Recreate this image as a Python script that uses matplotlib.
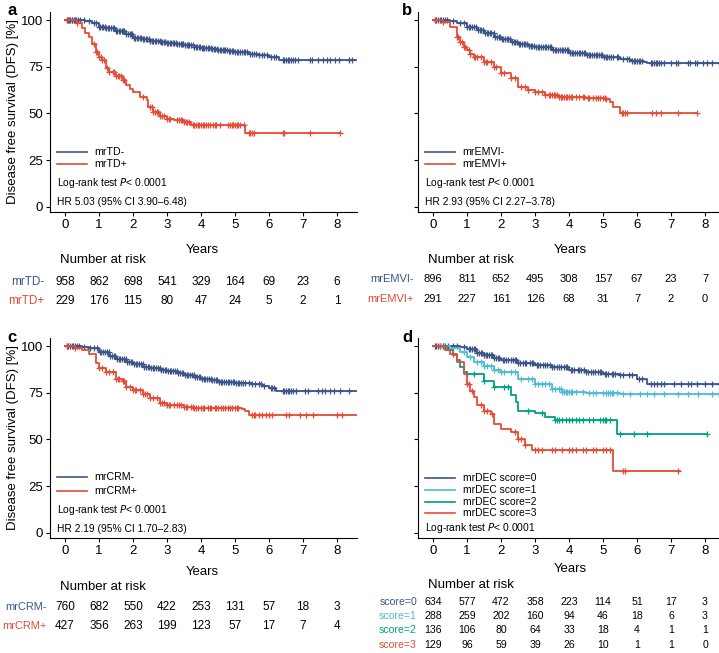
import numpy as np
import matplotlib
matplotlib.use('Agg')
import matplotlib.pyplot as plt
import matplotlib.transforms as mtransforms

plt.rcParams['font.family'] = ['Liberation Sans', 'DejaVu Sans']

# colours (NPG-like palette)
BLUE = '#3C5488'
RED = '#E64B35'
LIGHTBLUE = '#4DBBD5'
TEAL = '#00A087'

years = [0, 1, 2, 3, 4, 5, 6, 7, 8]
yticks = [0, 25, 50, 75, 100]

# ---- panel a: mrTD ----
td_neg_t = [0, 0.6, 0.8, 1.0, 1.2, 1.5, 1.8, 2.0, 2.3, 2.5, 2.8, 3.0, 3.3, 3.5, 3.8, 4.0, 4.3, 4.5, 4.8, 5.0, 5.4, 5.7, 6.0, 6.3, 8.65]
td_neg_s = [100, 99.3, 98.5, 96.5, 95.5, 94.3, 92.5, 90.5, 89.8, 89.0, 88.3, 87.8, 87.2, 86.6, 85.8, 85.2, 84.5, 84.0, 83.4, 83.0, 82.0, 81.3, 80.4, 78.5, 78.5]
td_neg_c = [0.05, 0.08, 0.12, 0.15, 0.2, 0.22, 0.27, 0.3, 0.33, 0.38, 0.45, 0.55, 0.7, 0.85, 0.92, 1.0, 1.04, 1.1, 1.13,
            1.18, 1.22, 1.27, 1.3, 1.36, 1.4, 1.44, 1.5, 1.53, 1.58, 1.62, 1.67, 1.7, 1.75, 1.8, 1.84, 1.9, 1.93, 1.98,
            2.03, 2.07, 2.12, 2.16, 2.2, 2.25, 2.3, 2.33, 2.38, 2.42, 2.47, 2.5, 2.55, 2.6, 2.64, 2.68, 2.73, 2.78, 2.82,
            2.86, 2.9, 2.95, 3.0, 3.04, 3.08, 3.13, 3.18, 3.22, 3.27, 3.3, 3.35, 3.4, 3.44, 3.48, 3.53, 3.58, 3.62, 3.66,
            3.7, 3.75, 3.8, 3.84, 3.88, 3.93, 3.97, 4.02, 4.06, 4.1, 4.15, 4.2, 4.24, 4.28, 4.33, 4.37, 4.42, 4.46, 4.5,
            4.55, 4.6, 4.64, 4.68, 4.72, 4.77, 4.82, 4.86, 4.9, 4.95, 5.0, 5.05, 5.1, 5.14, 5.2, 5.25, 5.3, 5.35, 5.45,
            5.5, 5.55, 5.62, 5.7, 5.8, 5.85, 5.95, 6.05, 6.15, 6.2, 6.4, 6.45, 6.5, 6.55, 6.6, 6.65, 6.7, 6.75, 6.85,
            7.2, 7.25, 7.45, 7.6, 7.7, 7.8, 7.95, 8.05, 8.35, 8.45]
td_pos_t = [0, 0.35, 0.5, 0.6, 0.7, 0.8, 0.9, 1.0, 1.1, 1.2, 1.3, 1.5, 1.7, 1.8, 1.9, 2.0, 2.2, 2.4, 2.45, 2.6, 2.8, 3.0, 3.2, 3.5, 3.7, 3.8, 5.3, 8.1]
td_pos_s = [100, 98.5, 95.5, 93, 91, 87, 83, 80.4, 78.6, 74.1, 72.3, 70, 67.9, 65.2, 63, 61.6, 58.9, 57.1, 53.6, 50.9, 48.8, 47.3, 46.4, 45.5, 44.1, 43.6, 39.3, 39.3]
td_pos_c = [0.05, 0.35, 0.85, 0.9, 0.95, 1.0, 1.05, 1.1, 1.15, 1.25, 1.3, 1.4, 1.45, 1.5, 1.55, 1.6, 1.65, 1.7, 1.75,
            2.3, 2.5, 2.55, 2.6, 2.65, 2.7, 2.75, 2.8, 2.85, 2.9, 3.0, 3.05, 3.1, 3.3, 3.35, 3.4, 3.45, 3.5, 3.55, 3.6,
            3.65, 3.75, 3.8, 3.85, 3.9, 3.95, 4.0, 4.05, 4.1, 4.15, 4.2, 4.25, 4.35, 4.4, 4.45, 4.55, 4.8, 4.85, 4.9,
            4.95, 5.0, 5.05, 5.1, 5.15, 5.25, 5.4, 5.45, 5.5, 5.55, 6.4, 6.45, 7.2, 8.1]
td_neg_risk = [958, 862, 698, 541, 329, 164, 69, 23, 6]
td_pos_risk = [229, 176, 115, 80, 47, 24, 5, 2, 1]

# ---- panel b: mrEMVI ----
emvi_neg_t = [0, 0.5, 0.7, 1.0, 1.3, 1.5, 1.8, 2.0, 2.3, 2.5, 2.8, 3.0, 3.5, 4.0, 4.5, 5.0, 5.5, 5.8, 6.2, 6.3, 8.6]
emvi_neg_s = [100, 99.3, 98.6, 96.4, 94.5, 92.9, 91, 89.6, 88, 87, 86.3, 85.7, 83.9, 82.5, 81.3, 80, 79.1, 78.2, 77.3, 76.8, 76.8]
emvi_neg_c = [0.05, 0.1, 0.15, 0.2, 0.25, 0.3, 0.35, 0.4, 0.6, 0.8, 0.9, 1.0, 1.05, 1.1, 1.15, 1.2, 1.27, 1.32, 1.38,
              1.42, 1.48, 1.53, 1.58, 1.63, 1.68, 1.72, 1.78, 1.83, 1.88, 1.93, 1.97, 2.03, 2.07, 2.12, 2.17, 2.22, 2.27,
              2.32, 2.37, 2.42, 2.47, 2.52, 2.57, 2.62, 2.67, 2.72, 2.77, 2.82, 2.87, 2.92, 2.97, 3.03, 3.08, 3.13, 3.18,
              3.23, 3.28, 3.33, 3.38, 3.43, 3.48, 3.53, 3.58, 3.63, 3.68, 3.73, 3.78, 3.83, 3.88, 3.93, 3.98, 4.03, 4.08,
              4.13, 4.18, 4.23, 4.28, 4.33, 4.38, 4.43, 4.48, 4.53, 4.58, 4.63, 4.68, 4.73, 4.78, 4.83, 4.88, 4.93, 4.98,
              5.03, 5.08, 5.13, 5.18, 5.23, 5.3, 5.4, 5.45, 5.6, 5.7, 5.75, 5.85, 5.9, 5.95, 6.0, 6.05, 6.1, 6.15, 6.4,
              6.45, 6.5, 6.55, 6.6, 6.65, 6.7, 6.8, 7.0, 7.15, 7.2, 7.5, 7.55, 7.7, 7.75, 7.95, 8.05, 8.2, 8.4]
emvi_pos_t = [0, 0.3, 0.5, 0.7, 0.8, 0.9, 1.0, 1.1, 1.2, 1.5, 1.8, 2.0, 2.3, 2.5, 2.8, 3.0, 3.3, 3.7, 4.5, 5.1, 5.2, 5.3, 5.5, 7.75]
emvi_pos_s = [100, 98.8, 96.4, 91, 88, 85.7, 83.9, 82, 80.4, 77.7, 75, 71.4, 68.75, 64.3, 62.5, 61.6, 59.8, 58.9, 58.4, 57.7, 56.25, 53.6, 50, 50]
emvi_pos_c = [0.05, 0.3, 0.7, 0.75, 0.8, 0.85, 0.9, 0.95, 1.05, 1.1, 1.2, 1.25, 1.3, 1.4, 1.5, 1.55, 1.6, 1.7, 1.8, 1.85,
              2.0, 2.1, 2.3, 2.4, 2.6, 2.7, 2.8, 3.0, 3.1, 3.2, 3.3, 3.4, 3.45, 3.5, 3.55, 3.6, 3.65, 3.7, 3.75, 3.8,
              3.85, 3.9, 3.95, 4.0, 4.05, 4.1, 4.2, 4.3, 4.4, 4.45, 4.55, 4.6, 4.7, 4.8, 4.85, 4.9, 5.0, 5.05, 5.1, 5.55,
              5.6, 5.65, 5.7, 6.45, 6.55, 6.7, 7.2, 7.75]
emvi_neg_risk = [896, 811, 652, 495, 308, 157, 67, 23, 7]
emvi_pos_risk = [291, 227, 161, 126, 68, 31, 7, 2, 0]

# ---- panel c: mrCRM ----
crm_neg_t = [0, 0.5, 0.7, 1.0, 1.3, 1.5, 1.8, 2.0, 2.3, 2.5, 2.8, 3.0, 3.3, 3.5, 3.8, 4.0, 4.3, 4.5, 5.0, 5.5, 5.8, 6.0, 6.2, 8.6]
crm_neg_s = [100, 99.5, 98.75, 96.8, 94.8, 93.2, 91.5, 90.2, 89, 88, 87.2, 86.6, 85.6, 84.5, 83.3, 82.5, 81.7, 80.9, 80.4, 79.5, 78.5, 77.7, 75.9, 75.9]
crm_neg_c = [0.05, 0.1, 0.15, 0.2, 0.25, 0.3, 0.35, 0.42, 0.55, 0.75, 0.85, 0.95, 1.02, 1.07, 1.12, 1.17, 1.23, 1.28, 1.33,
             1.38, 1.43, 1.48, 1.53, 1.58, 1.63, 1.68, 1.73, 1.78, 1.83, 1.88, 1.93, 1.98, 2.03, 2.08, 2.13, 2.18, 2.23,
             2.28, 2.33, 2.38, 2.43, 2.48, 2.53, 2.58, 2.63, 2.68, 2.73, 2.78, 2.83, 2.88, 2.93, 2.98, 3.03, 3.08, 3.13,
             3.18, 3.23, 3.28, 3.33, 3.38, 3.43, 3.48, 3.53, 3.58, 3.63, 3.68, 3.73, 3.78, 3.83, 3.88, 3.93, 3.98, 4.03,
             4.08, 4.13, 4.18, 4.23, 4.28, 4.33, 4.38, 4.43, 4.48, 4.53, 4.58, 4.63, 4.68, 4.73, 4.78, 4.83, 4.88, 4.93,
             4.98, 5.03, 5.08, 5.13, 5.18, 5.23, 5.3, 5.4, 5.5, 5.6, 5.7, 5.75, 5.85, 6.05, 6.1, 6.15, 6.4, 6.45, 6.5,
             6.55, 6.6, 6.65, 6.7, 6.8, 7.05, 7.15, 7.45, 7.55, 7.65, 7.8, 7.9, 8.1, 8.35]
crm_pos_t = [0, 0.3, 0.5, 0.7, 0.9, 1.0, 1.2, 1.5, 1.7, 1.8, 2.0, 2.3, 2.5, 2.8, 3.0, 3.5, 3.8, 5.2, 5.3, 5.4, 8.6]
crm_pos_s = [100, 99, 97.9, 95.5, 91, 88.4, 86, 82.5, 81.25, 78.2, 76.4, 74.1, 72.3, 69.6, 68.2, 67.3, 66.6, 66.4, 65.2, 62.9, 62.9]
crm_pos_c = [0.05, 0.3, 1.0, 1.1, 1.2, 1.3, 1.4, 1.5, 1.55, 1.6, 1.7, 1.75, 1.8, 1.9, 2.0, 2.05, 2.1, 2.2, 2.3, 2.35, 2.4,
             2.5, 2.6, 2.7, 2.8, 2.85, 2.9, 3.0, 3.05, 3.1, 3.2, 3.3, 3.35, 3.4, 3.5, 3.55, 3.6, 3.7, 3.75, 3.8, 3.85,
             3.9, 4.0, 4.05, 4.1, 4.2, 4.25, 4.3, 4.4, 4.45, 4.5, 4.6, 4.65, 4.7, 4.8, 4.85, 4.9, 5.0, 5.05, 5.1, 5.5,
             5.55, 5.6, 5.7, 5.8, 5.9, 6.0, 6.1, 6.5, 6.6, 6.9, 7.1, 7.3, 8.0, 8.15]
crm_neg_risk = [760, 682, 550, 422, 253, 131, 57, 18, 3]
crm_pos_risk = [427, 356, 263, 199, 123, 57, 17, 7, 4]

# ---- panel d: mrDEC score ----
dec0_t = [0, 0.8, 1.0, 1.3, 1.5, 1.8, 2.0, 2.5, 3.0, 3.5, 4.0, 4.5, 5.0, 5.5, 6.0, 6.3, 8.6]
dec0_s = [100, 99.3, 98.2, 96.5, 95, 93.5, 92.3, 91.1, 90, 88.75, 87.3, 86, 85.2, 84.3, 82.5, 79.8, 79.8]
dec0_c = [0.05, 0.1, 0.15, 0.2, 0.3, 0.35, 0.45, 0.6, 0.7, 0.9, 1.05, 1.1, 1.15, 1.2, 1.25, 1.3, 1.35, 1.4, 1.45, 1.5,
          1.55, 1.6, 1.65, 1.7, 1.75, 1.8, 1.85, 1.9, 1.95, 2.05, 2.1, 2.15, 2.2, 2.3, 2.35, 2.4, 2.45, 2.5, 2.55, 2.65,
          2.7, 2.75, 2.85, 2.9, 2.95, 3.05, 3.1, 3.15, 3.25, 3.3, 3.35, 3.45, 3.5, 3.55, 3.65, 3.7, 3.75, 3.85, 3.9,
          3.95, 4.05, 4.1, 4.15, 4.25, 4.3, 4.35, 4.45, 4.5, 4.55, 4.65, 4.7, 4.75, 4.85, 4.9, 4.95, 5.05, 5.1, 5.15,
          5.25, 5.3, 5.35, 5.5, 5.6, 5.75, 5.85, 6.05, 6.15, 6.4, 6.5, 6.6, 6.7, 6.8, 7.1, 7.3, 7.5, 7.6, 7.75, 8.0,
          8.2, 8.4]
dec1_t = [0, 0.5, 0.8, 1.0, 1.2, 1.5, 1.8, 2.0, 2.5, 3.0, 3.5, 3.8, 4.5, 5.5, 8.6]
dec1_s = [100, 99, 96.8, 94.1, 91.5, 89.1, 87.3, 86.1, 82.5, 79.8, 77.1, 75.4, 74.8, 74.5, 74.5]
dec1_c = [0.3, 0.9, 1.1, 1.3, 1.4, 1.5, 1.6, 1.7, 1.8, 1.9, 2.0, 2.1, 2.3, 2.4, 2.6, 2.8, 2.9, 3.0, 3.1, 3.2, 3.3, 3.4,
          3.5, 3.6, 3.7, 3.75, 3.8, 3.85, 3.9, 3.95, 4.0, 4.05, 4.1, 4.2, 4.4, 4.6, 4.7, 4.8, 5.0, 5.1, 5.15, 5.2,
          5.25, 5.3, 5.4, 5.6, 5.8, 6.1, 6.3, 6.5, 6.8, 7.2, 7.5, 7.8, 8.2, 8.4]
dec2_t = [0, 0.4, 0.6, 0.7, 0.8, 0.9, 1.0, 1.5, 1.8, 2.3, 2.45, 2.5, 3.0, 3.3, 3.6, 5.4, 8.05]
dec2_s = [100, 98, 95, 92.3, 89, 86, 85.2, 81.25, 78, 73.6, 70, 65.5, 64.1, 62, 60.5, 53, 53]
dec2_c = [0.3, 1.0, 1.2, 1.5, 1.8, 2.1, 2.2, 2.8, 3.2, 3.6, 3.65, 3.7, 3.8, 3.9, 4.0, 4.1, 4.2, 4.3, 4.4, 4.6, 4.7, 4.9,
          5.0, 5.05, 5.1, 5.2, 5.5, 5.9, 6.3, 8.05]
dec3_t = [0, 0.35, 0.5, 0.7, 0.9, 1.0, 1.1, 1.2, 1.3, 1.5, 1.7, 1.8, 2.0, 2.3, 2.5, 2.7, 2.9, 5.3, 7.25]
dec3_s = [100, 98, 95.9, 91.4, 85.2, 79.8, 76, 72.7, 68.2, 65.5, 63.75, 58.4, 55.7, 53.9, 50.4, 46.8, 44.5, 32.9, 32.9]
dec3_c = [0.2, 0.6, 1.0, 1.05, 1.15, 1.4, 1.5, 1.6, 1.75, 2.4, 2.5, 2.6, 2.7, 3.0, 3.1, 3.2, 3.5, 3.6, 3.8, 4.0, 4.1, 4.2,
          4.4, 4.5, 4.7, 4.8, 5.0, 5.1, 5.2, 5.6, 5.65, 7.2]
dec0_risk = [634, 577, 472, 358, 223, 114, 51, 17, 3]
dec1_risk = [288, 259, 202, 160, 94, 46, 18, 6, 3]
dec2_risk = [136, 106, 80, 64, 33, 18, 4, 1, 1]
dec3_risk = [129, 96, 59, 39, 26, 10, 1, 1, 0]

W, H = 719, 653
fig = plt.figure(figsize=(W / 100, H / 100), dpi=100)


def make_ax(left, top):
    # axes box given in pixels: 307 wide, 200 tall
    ax = fig.add_axes([left / W, (H - top - 200) / H, 307 / W, 200 / H])
    ax.set_xlim(-0.441, 8.588)
    ax.set_ylim(-2.7, 104.3)
    ax.spines['top'].set_visible(False)
    ax.spines['right'].set_visible(False)
    ax.set_xticks(years)
    ax.set_yticks(yticks)
    ax.tick_params(labelsize=9.5, length=3, width=0.8, pad=2)
    return ax


def km(ax, t, s, cens, color):
    t = np.asarray(t)
    s = np.asarray(s)
    ax.step(t, s, where='post', color=color, lw=1.3)
    cens = np.asarray(cens)
    idx = np.searchsorted(t, cens, side='right') - 1
    ax.plot(cens, s[idx], ls='none', marker='+', ms=4.5, mew=0.9, color=color)


def legend(ax, labels, colors, ys, size=7.7):
    for lab, col, y in zip(labels, colors, ys):
        ax.plot([0.023, 0.12], [y, y], transform=ax.transAxes, color=col, lw=1.2)
        ax.text(0.145, y, lab, transform=ax.transAxes, va='center', fontsize=size)


def risk_table(ax, names, colors, counts, rows, label_x, size=8.5, label_size=None,
               years_y=-0.19, nar_y=-0.24):
    tr = mtransforms.blended_transform_factory(ax.transData, ax.transAxes)
    ax.text(4.05, years_y, 'Years', transform=tr, ha='center', va='center', fontsize=9.5)
    ax.text(-0.15, nar_y, 'Number at risk', transform=tr, ha='left', va='center', fontsize=9.5)
    for name, col, cnt, y in zip(names, colors, counts, rows):
        ax.text(label_x, y, name, transform=tr, ha='right', va='center',
                fontsize=label_size or size, color=col)
        for x, n in zip(years, cnt):
            ax.text(x, y, str(n), transform=tr, ha='center', va='center', fontsize=size)


LOGRANK = 'Log-rank test $\\it{P}$< 0.0001'

# panel a
ax_a = make_ax(50, 12)
km(ax_a, td_neg_t, td_neg_s, td_neg_c, BLUE)
km(ax_a, td_pos_t, td_pos_s, td_pos_c, RED)
ax_a.set_ylabel('Disease free survival (DFS) [%]', fontsize=9.5)
ax_a.yaxis.set_label_coords(-0.1, 0.5)
legend(ax_a, ['mrTD-', 'mrTD+'], [BLUE, RED], [0.30, 0.24])
ax_a.text(0.023, 0.145, LOGRANK, transform=ax_a.transAxes, va='center', fontsize=7.4)
ax_a.text(0.023, 0.05, 'HR 5.03 (95% CI 3.90\u20136.48)', transform=ax_a.transAxes, va='center', fontsize=7.4)
risk_table(ax_a, ['mrTD-', 'mrTD+'], [BLUE, RED], [td_neg_risk, td_pos_risk], [-0.35, -0.445], -0.62)

# panel b
ax_b = make_ax(418, 12)
km(ax_b, emvi_neg_t, emvi_neg_s, emvi_neg_c, BLUE)
km(ax_b, emvi_pos_t, emvi_pos_s, emvi_pos_c, RED)
ax_b.set_yticklabels([])
legend(ax_b, ['mrEMVI-', 'mrEMVI+'], [BLUE, RED], [0.30, 0.24])
ax_b.text(0.023, 0.145, LOGRANK, transform=ax_b.transAxes, va='center', fontsize=7.4)
ax_b.text(0.023, 0.05, 'HR 2.93 (95% CI 2.27\u20133.78)', transform=ax_b.transAxes, va='center', fontsize=7.4)
risk_table(ax_b, ['mrEMVI-', 'mrEMVI+'], [BLUE, RED], [emvi_neg_risk, emvi_pos_risk], [-0.335, -0.435], -0.56, size=8)

# panel c
ax_c = make_ax(50, 338)
km(ax_c, crm_neg_t, crm_neg_s, crm_neg_c, BLUE)
km(ax_c, crm_pos_t, crm_pos_s, crm_pos_c, RED)
ax_c.set_ylabel('Disease free survival (DFS) [%]', fontsize=9.5)
ax_c.yaxis.set_label_coords(-0.1, 0.5)
legend(ax_c, ['mrCRM-', 'mrCRM+'], [BLUE, RED], [0.305, 0.235])
ax_c.text(0.023, 0.14, LOGRANK, transform=ax_c.transAxes, va='center', fontsize=7.4)
ax_c.text(0.023, 0.045, 'HR 2.19 (95% CI 1.70\u20132.83)', transform=ax_c.transAxes, va='center', fontsize=7.4)
risk_table(ax_c, ['mrCRM-', 'mrCRM+'], [BLUE, RED], [crm_neg_risk, crm_pos_risk], [-0.345, -0.44], -0.53,
           label_size=7.9, years_y=-0.17, nar_y=-0.245)

# panel d
ax_d = make_ax(418, 338)
km(ax_d, dec0_t, dec0_s, dec0_c, BLUE)
km(ax_d, dec1_t, dec1_s, dec1_c, LIGHTBLUE)
km(ax_d, dec2_t, dec2_s, dec2_c, TEAL)
km(ax_d, dec3_t, dec3_s, dec3_c, RED)
ax_d.set_yticklabels([])
dec_cols = [BLUE, LIGHTBLUE, TEAL, RED]
legend(ax_d, ['mrDEC score=0', 'mrDEC score=1', 'mrDEC score=2', 'mrDEC score=3'], dec_cols,
       [0.30, 0.24, 0.18, 0.125], size=7.4)
ax_d.text(0.023, 0.05, LOGRANK, transform=ax_d.transAxes, va='center', fontsize=7.4)
risk_table(ax_d, ['score=0', 'score=1', 'score=2', 'score=3'], dec_cols,
           [dec0_risk, dec1_risk, dec2_risk, dec3_risk], [-0.32, -0.39, -0.46, -0.535], -0.47, size=7.6,
           years_y=-0.155, nar_y=-0.235)

# panel letters
for x, y, letter in [(7, 3, 'a'), (402, 3, 'b'), (7, 330, 'c'), (402, 330, 'd')]:
    fig.text(x / W, 1 - y / H, letter, ha='left', va='top', fontsize=12, fontweight='bold')

fig.savefig('out.png', dpi=100)
